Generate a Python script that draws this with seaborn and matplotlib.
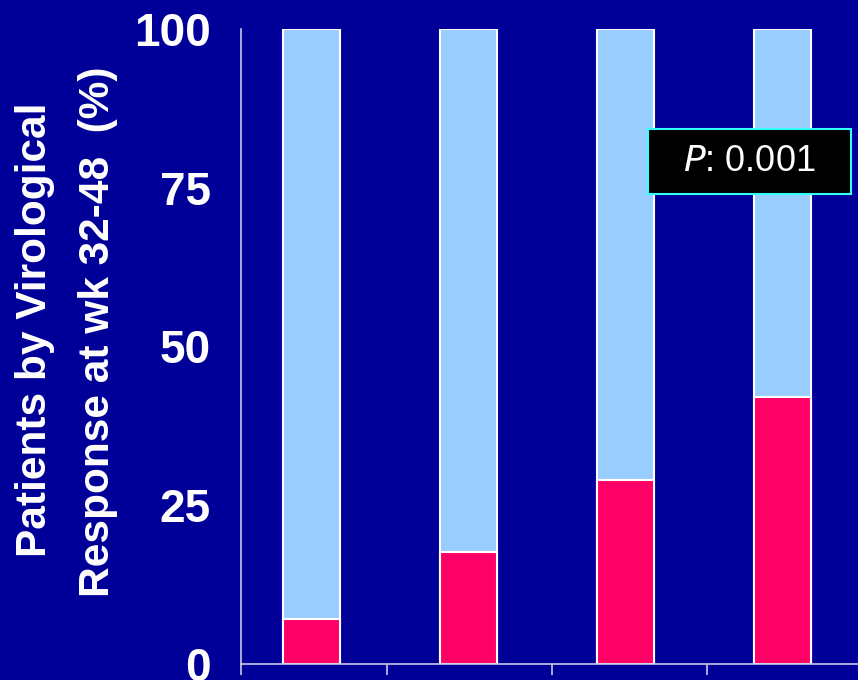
import matplotlib
matplotlib.use("Agg")
import matplotlib.pyplot as plt
import seaborn as sns
import pandas as pd
from matplotlib.patches import Rectangle

# Response rates by group (percent of patients)
groups = ["G1", "G2", "G3", "G4"]
responders = [7.1, 17.6, 29.0, 42.0]
totals = [100, 100, 100, 100]
y_ticks = [0, 25, 50, 75, 100]
p_label = "0.001"

bg = "#000099"
light_blue = "#99CCFF"
pink = "#FF0066"

sns.set_theme(style="white")
plt.rcParams["font.family"] = ["Liberation Sans", "DejaVu Sans"]

df = pd.DataFrame({"group": groups, "responders": responders, "total": totals})

fig = plt.figure(figsize=(8.58, 6.80), dpi=100, facecolor=bg)
ax = fig.add_axes([0.281, 0.0235, 0.719, 0.934])
ax.set_facecolor(bg)

sns.barplot(data=df, x="group", y="total", color=light_blue, width=0.36,
            edgecolor="white", linewidth=1.5, saturation=1, ax=ax)
sns.barplot(data=df, x="group", y="responders", color=pink, width=0.36,
            edgecolor="white", linewidth=1.5, saturation=1, ax=ax)

ax.set_ylim(0, 100)
ax.set_xlim(-0.443, 3.48)
ax.set_yticks(y_ticks)
ax.set_yticklabels([str(t) for t in y_ticks], fontsize=33, fontweight="bold",
                   color="white")
ax.tick_params(axis="y", length=0, pad=22)
ax.set_xticks([-0.45, 0.48, 1.53, 2.52])
ax.set_xticklabels([])
ax.tick_params(axis="x", direction="out", length=8, width=1.2,
               color="#C8C8E8", bottom=True)
ax.set_xlabel("")
ax.set_ylabel("")

for side in ["top", "right"]:
    ax.spines[side].set_visible(False)
for side in ["left", "bottom"]:
    ax.spines[side].set_color("#C8C8E8")
    ax.spines[side].set_linewidth(1.2)

fig.text(0.041, 0.515, "Patients by Virological", rotation=90,
         fontsize=30.5, fontweight="bold", color="white",
         ha="center", va="center")
fig.text(0.114, 0.512, "Response at wk 32-48  (%)", rotation=90,
         fontsize=30.5, fontweight="bold", color="white",
         ha="center", va="center")

# P-value box
ax.add_patch(Rectangle((0.6597, 0.740), 0.329, 0.1025,
                       transform=ax.transAxes, facecolor="black",
                       edgecolor="#33FFFF", linewidth=1.5, zorder=5,
                       clip_on=False))
ax.text(0.824, 0.7906, r"$\mathit{P}$: " + p_label, transform=ax.transAxes,
        fontsize=26, color="white", ha="center", va="center", zorder=6)

fig.savefig("out.png", dpi=100, facecolor=bg)
